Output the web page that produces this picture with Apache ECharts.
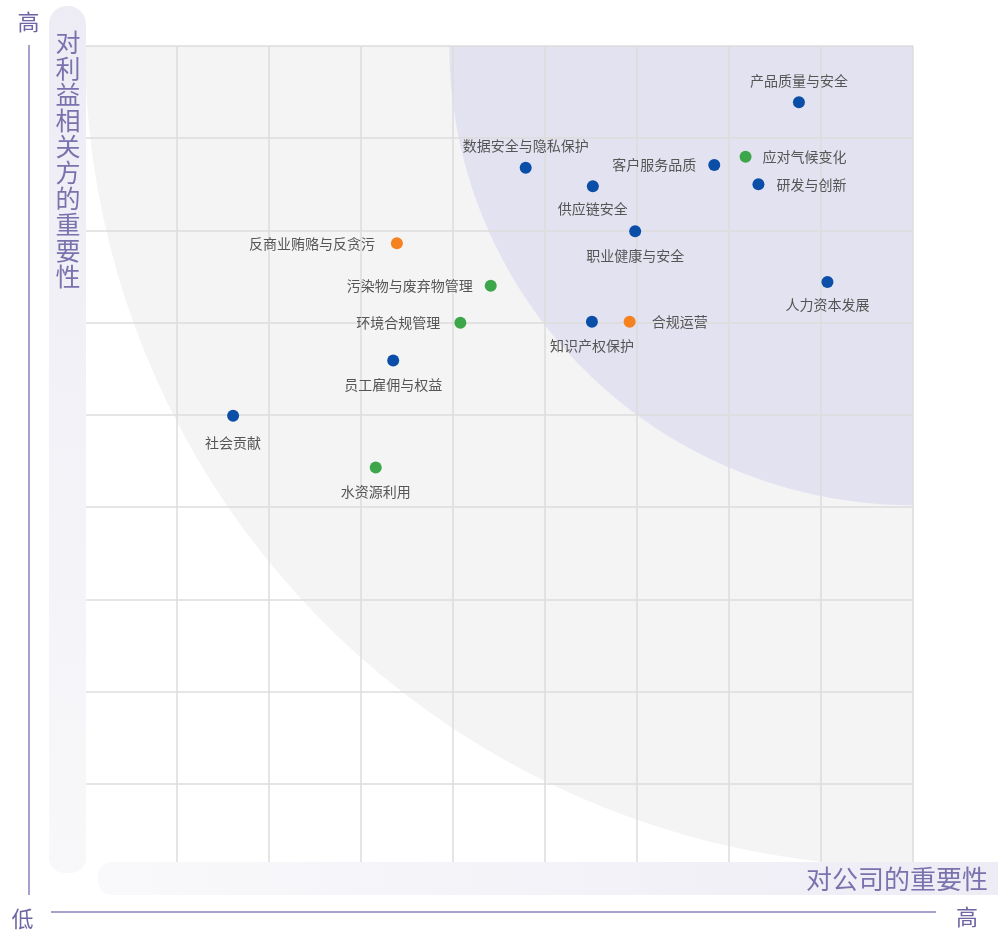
<!DOCTYPE html>
<html>
<head>
<meta charset="utf-8">
<style>
html,body{margin:0;padding:0;background:#fff;}
#chart{width:998px;height:932px;}
</style>
<script src="https://cdn.jsdelivr.net/npm/echarts@6/dist/echarts.min.js"></script>
</head>
<body>
<div id="chart"></div>
<script>
// ---- data ----
const topics = ['产品质量与安全','应对气候变化','客户服务品质','研发与创新','数据安全与隐私保护','供应链安全','职业健康与安全','反商业贿赂与反贪污','污染物与废弃物管理','人力资本发展','环境合规管理','知识产权保护','合规运营','员工雇佣与权益','社会贡献','水资源利用'];
const companyImportance = [7.76, 7.18, 6.84, 7.32, 4.79, 5.52, 5.98, 3.39, 4.41, 8.07, 4.08, 5.51, 5.92, 3.35, 1.61, 3.16];
const stakeholderImportance = [8.39, 7.80, 7.71, 7.50, 7.68, 7.48, 6.99, 6.86, 6.40, 6.44, 6.00, 6.01, 6.01, 5.59, 4.99, 4.43];
const topicGroup = ['S','E','S','S','S','S','S','G','E','S','E','S','G','S','S','E'];
const axisMin = 0, axisMax = 9;
const yAxisTitle = '对利益相关方的重要性';
const xAxisTitle = '对公司的重要性';
const highText = '高', lowText = '低';

// ---- styles ----
const groupColor = {E:'#3ea64a', S:'#0a4ea8', G:'#f5821f'};
const labelPlacement = {
  '产品质量与安全':['top',9], '应对气候变化':['right',11], '客户服务品质':['left',12],
  '研发与创新':['right',12], '数据安全与隐私保护':['top',9], '供应链安全':['bottom',10],
  '职业健康与安全':['bottom',11], '反商业贿赂与反贪污':['left',16], '污染物与废弃物管理':['left',12],
  '人力资本发展':['bottom',10], '环境合规管理':['left',14], '知识产权保护':['bottom',11],
  '合规运营':['right',16], '员工雇佣与权益':['bottom',11], '社会贡献':['bottom',14], '水资源利用':['bottom',11]
};
const FONT = '"Noto Sans CJK SC", "Noto Sans", sans-serif';

const points = topics.map((n,i)=>{
  const p = labelPlacement[n];
  return {
    name:n,
    value:[companyImportance[i], stakeholderImportance[i]],
    itemStyle:{color:groupColor[topicGroup[i]], opacity:1},
    label:{position:p[0], distance:p[1]}
  };
});

function ellipseItem(rx, ry, color){
  return function(params, api){
    const c = api.coord([axisMax, axisMax]);
    const s = api.size([rx, ry]);
    const pts = [];
    for(let k=0;k<=180;k++){
      const a = Math.PI*2*k/180;
      pts.push([c[0]+s[0]*Math.cos(a), c[1]+s[1]*Math.sin(a)]);
    }
    return {type:'polygon', shape:{points:pts}, style:{fill:color}};
  };
}

const chart = echarts.init(document.getElementById('chart'), null, {renderer:'canvas'});
chart.setOption({
  animation:false,
  backgroundColor:'#ffffff',
  grid:{left:85, right:85, top:46, bottom:56},
  xAxis:{type:'value', min:axisMin, max:axisMax, interval:1,
    axisLine:{show:false}, axisTick:{show:false}, axisLabel:{show:false},
    splitLine:{show:true, lineStyle:{color:'#dcdcdc', width:1.5}}},
  yAxis:{type:'value', min:axisMin, max:axisMax, interval:1,
    axisLine:{show:false}, axisTick:{show:false}, axisLabel:{show:false},
    splitLine:{show:true, lineStyle:{color:'#dcdcdc', width:1.5}}},
  series:[
    {type:'custom', z:-10, clip:true, silent:true, data:[[axisMax,axisMax]],
      renderItem:ellipseItem(9.0, 8.9, '#f4f4f5')},
    {type:'custom', z:-9, clip:true, silent:true, data:[[axisMax,axisMax]],
      renderItem:ellipseItem(5.04, 4.98, '#e3e2f0')},
    {type:'scatter', symbolSize:12, data:points,
      label:{show:true, formatter:'{b}', color:'#555555', fontSize:14, fontFamily:FONT}}
  ],
  graphic:[
    {type:'rect', z:99, shape:{x:80, y:861, width:30, height:20}, style:{fill:'#ffffff'}},
    {type:'rect', z:100, shape:{x:49, y:6, width:37, height:867, r:[18,18,15,15]},
      style:{fill:new echarts.graphic.LinearGradient(0,0,0,1,[{offset:0,color:'#edecf5'},{offset:1,color:'#f8f8fa'}])}},
    {type:'text', z:101, x:68, y:29, style:{text:yAxisTitle.split('').join('\n'), fontSize:25, lineHeight:26,
      fill:'#7a72ad', align:'center', verticalAlign:'top', fontFamily:FONT}},
    {type:'rect', z:100, shape:{x:98, y:862, width:920, height:33, r:[14,0,0,14]},
      style:{fill:new echarts.graphic.LinearGradient(0,0,1,0,[{offset:0,color:'#f9f9fb'},{offset:1,color:'#edecf5'}])}},
    {type:'text', z:101, x:988, y:879, style:{text:xAxisTitle, fontSize:26, fill:'#7a72ad',
      align:'right', verticalAlign:'middle', fontFamily:FONT}},
    {type:'line', z:100, shape:{x1:29, y1:45, x2:29, y2:895}, style:{stroke:'#8a83bd', lineWidth:1.5}},
    {type:'line', z:100, shape:{x1:51, y1:912, x2:936, y2:912}, style:{stroke:'#8a83bd', lineWidth:1.5}},
    {type:'text', z:101, x:28.5, y:22, style:{text:highText, fontSize:22, fill:'#6e66a3', align:'center', verticalAlign:'middle', fontFamily:FONT}},
    {type:'text', z:101, x:22.5, y:919, style:{text:lowText, fontSize:22, fill:'#6e66a3', align:'center', verticalAlign:'middle', fontFamily:FONT}},
    {type:'text', z:101, x:967, y:917, style:{text:highText, fontSize:22, fill:'#6e66a3', align:'center', verticalAlign:'middle', fontFamily:FONT}}
  ]
});
</script>
</body>
</html>
